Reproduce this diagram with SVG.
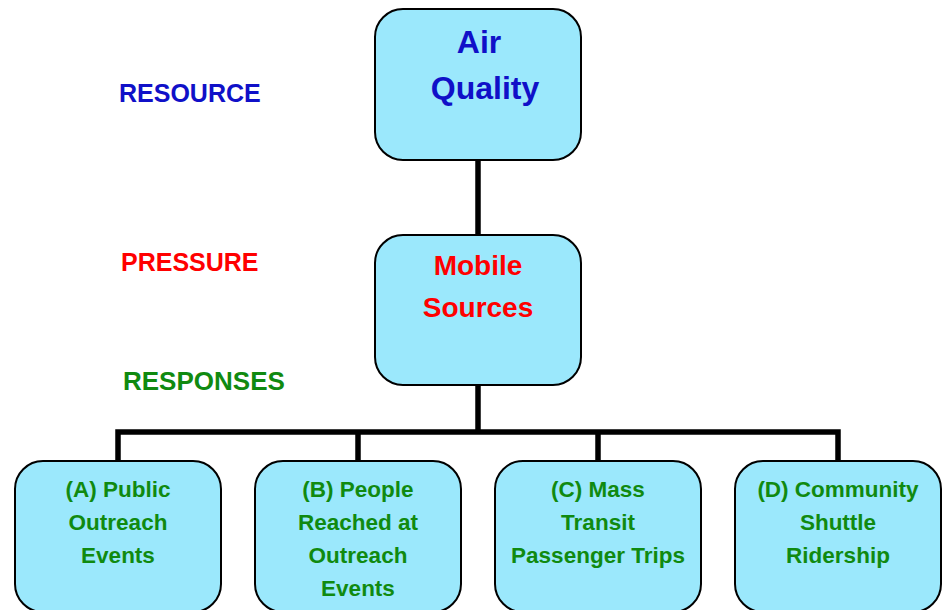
<svg xmlns="http://www.w3.org/2000/svg" width="949" height="610" viewBox="0 0 949 610">
<style>
.box{fill:#9BE8FC;stroke:#000;stroke-width:2}
text{font-family:"Comic Sans MS","Liberation Sans",sans-serif;font-weight:bold;text-anchor:middle}
.lbl{font-size:25px;text-anchor:start}
.top{font-size:32px;fill:#1010C8}
.mid{font-size:28px;fill:#FF0000}
.bot{font-size:22.5px;fill:#108A10}
.conn{fill:none;stroke:#000;stroke-width:5.5}
</style>
<rect width="949" height="610" fill="#fff"/>
<text class="lbl" x="119" y="102" fill="#1010C8">RESOURCE</text>
<text class="lbl" x="121" y="271" fill="#FF0000">PRESSURE</text>
<text class="lbl" x="123" y="390" fill="#108A10" style="font-size:26px">RESPONSES</text>
<g id="connectors">
<line class="conn" x1="478" y1="160" x2="478" y2="235"/>
<line class="conn" x1="478" y1="385" x2="478" y2="432"/>
<polyline class="conn" points="118,461 118,432 838,432 838,461"/>
<line class="conn" x1="358" y1="432" x2="358" y2="461"/>
<line class="conn" x1="598" y1="432" x2="598" y2="461"/>
</g>
<g id="air">
<rect class="box" x="375" y="9" width="206" height="151" rx="28"/>
<text class="top" x="479" y="53">Air</text>
<text class="top" x="485" y="99">Quality</text>
</g>
<g id="mobile">
<rect class="box" x="375" y="235" width="206" height="150" rx="28"/>
<text class="mid" x="478" y="275">Mobile</text>
<text class="mid" x="478" y="317">Sources</text>
</g>
<g id="a">
<rect class="box" x="15" y="461" width="206" height="151" rx="28"/>
<text class="bot" x="118" y="497">(A) Public</text>
<text class="bot" x="118" y="530">Outreach</text>
<text class="bot" x="118" y="563">Events</text>
</g>
<g id="b">
<rect class="box" x="255" y="461" width="206" height="151" rx="28"/>
<text class="bot" x="358" y="497">(B) People</text>
<text class="bot" x="358" y="530">Reached at</text>
<text class="bot" x="358" y="563">Outreach</text>
<text class="bot" x="358" y="596">Events</text>
</g>
<g id="c">
<rect class="box" x="495" y="461" width="206" height="151" rx="28"/>
<text class="bot" x="598" y="497">(C) Mass</text>
<text class="bot" x="598" y="530">Transit</text>
<text class="bot" x="598" y="563">Passenger Trips</text>
</g>
<g id="d">
<rect class="box" x="735" y="461" width="206" height="151" rx="28"/>
<text class="bot" x="838" y="497">(D) Community</text>
<text class="bot" x="838" y="530">Shuttle</text>
<text class="bot" x="838" y="563">Ridership</text>
</g>
</svg>
